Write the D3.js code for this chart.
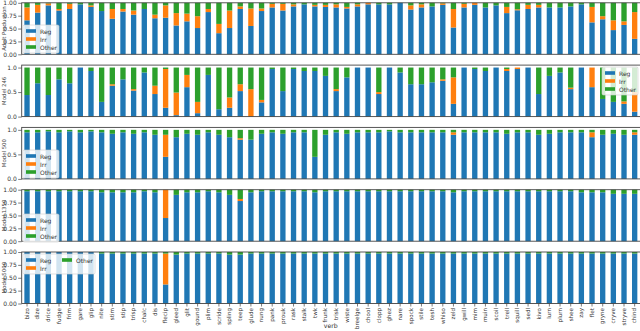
<!DOCTYPE html>
<html>
<head>
<meta charset="utf-8">
<script src="https://cdn.jsdelivr.net/npm/d3@7"></script>
<style>
  body { margin: 0; background: #fff; }
  svg { display: block; font-family: "DejaVu Sans", sans-serif; }
</style>
</head>
<body>
<svg id="chart" width="640" height="331"></svg>
<script>
// verbes et catégories
const verbs = ["bizo","dize","drice","fudge","frim","gare","glip","nite","stim","stip","trisp","chalc","dis","flecip","gleed","glit","gound","plim","scride","spling","teep","glude","nung","pank","prouk","rask","stalk","twk","frunk","trisk","wiste","breelge","chool","clopp","ghez","nare","spock","stile","tesh","whiso","zeld","gwill","mim","muin","scoil","trell","squill","sedl","kivo","lurn","plurn","shee","zay","flet","gryne","cryve","stryve","chind"];
const SERIES = ["Reg", "Irr", "Other"];
const COLORS = ["#1f77b4", "#ff7f0e", "#2ca02c"];

// Adult Production
const adultReg = [.66,.81,.95,.85,.88,.97,.92,.84,.69,.83,.77,.88,.70,.71,.56,.64,.51,.82,.41,.51,.88,.55,.84,.91,.85,.93,.97,.93,.92,.91,.89,.93,.97,.97,.97,1.0,.87,.91,.93,.96,.52,.91,.96,.91,.95,.80,.855,.88,.91,.91,.91,.93,.97,.62,.68,.47,.57,.30];
const adultIrr = [.25,.15,.04,.03,.10,0,.03,0,.19,.05,.08,0,.07,.24,.24,.15,.23,.06,.18,.34,.05,.34,.05,.07,.13,.04,0,.03,.04,.06,.03,.04,.03,0,0,0,.08,.06,0,.03,.36,.07,.04,0,0,.12,.02,.08,.05,0,0,0,0,.30,.06,.19,.07,.52];
const adultOther = [.09,.04,.01,.12,.02,.03,.05,.16,.12,.12,.15,.12,.23,.05,.20,.21,.26,.12,.41,.15,.07,.11,.11,.02,.02,.03,.03,.04,.04,.03,.08,.03,0,.03,.03,0,.05,.03,.07,.01,.12,.02,0,.09,.05,.08,.125,.04,.04,.09,.09,.07,.03,.08,.26,.34,.36,.18];

// Model 246
const m246Reg = [.44,.68,.44,.76,.68,1.0,.93,.30,.63,.76,.53,.90,.46,.18,.03,.60,.07,.85,.15,.18,.52,0,.29,.97,.52,.97,.93,.93,.83,.52,.80,1.0,1.0,.46,1.0,.90,.66,.66,.70,.73,.26,1.0,.97,.93,1.0,.93,.97,1.0,.46,.83,.90,.56,1.0,.60,.36,.30,.26,.10];
const m246Irr = [0,0,0,0,0,0,0,0,.03,0,.03,0,.17,.79,.46,.25,.23,0,0,.21,.14,.56,.05,0,0,0,0,0,0,.04,0,0,0,.04,0,0,0,0,0,.03,.54,0,0,0,0,.04,.03,0,0,0,0,.03,0,.40,0,0,.05,.40];
const m246Other = [.56,.32,.56,.24,.32,0,.07,.70,.34,.24,.44,.10,.37,.03,.51,.15,.70,.15,.85,.61,.34,.44,.66,.03,.48,.03,.07,.07,.17,.44,.20,0,0,.50,0,.10,.34,.34,.30,.24,.20,0,.03,.07,0,.03,0,0,.54,.17,.10,.41,0,0,.64,.70,.69,.50];

// Model 500
const m500Reg = [.95,.95,.97,.95,.97,.95,.97,.95,.92,.95,.92,.95,.90,.45,.85,.92,.90,.95,.90,.85,.80,.80,.92,.95,.92,.95,.95,.45,.90,.95,.92,.95,.95,.95,.97,.95,.95,.95,.95,.95,.90,.95,.95,.95,.95,.92,.95,.95,.90,.92,.95,.95,.95,.85,.90,.92,.90,.90];
const m500Irr = [0,0,0,0,0,0,0,0,0,0,0,0,0,.45,0,0,0,0,0,0,.03,0,0,0,0,0,0,0,0,0,0,0,0,0,0,0,0,0,0,0,.05,0,0,0,0,0,0,0,0,0,0,0,0,.10,0,0,0,.05];
const m500Other = [.05,.05,.03,.05,.03,.05,.03,.05,.08,.05,.08,.05,.10,.10,.15,.08,.10,.05,.10,.15,.17,.20,.08,.05,.08,.05,.05,.55,.10,.05,.08,.05,.05,.05,.03,.05,.05,.05,.05,.05,.05,.05,.05,.05,.05,.08,.05,.05,.10,.08,.05,.05,.05,.05,.10,.08,.10,.05];

// Model 1350
const m1350Reg = [.97,.97,.97,.97,.97,.97,.97,.95,.95,.95,.95,.97,.95,.45,.90,.95,.95,.97,.95,.90,.78,.95,.97,.97,.97,.97,.97,.95,.97,.97,.97,.97,.97,.97,.97,.97,.97,.97,.97,.97,.95,.97,.97,.97,.97,.97,.97,.97,.97,.97,.97,.97,.95,.95,.95,.92,.92,.92];
const m1350Irr = [0,0,0,0,0,0,0,0,0,0,0,0,0,.55,0,0,0,0,0,0,.04,0,0,0,0,0,0,0,0,0,0,0,0,0,0,0,0,0,0,0,0,0,0,0,0,0,0,0,0,0,0,0,0,0,0,0,0,0];
const m1350Other = [.03,.03,.03,.03,.03,.03,.03,.05,.05,.05,.05,.03,.05,0,.10,.05,.05,.03,.05,.10,.18,.05,.03,.03,.03,.03,.03,.05,.03,.03,.03,.03,.03,.03,.03,.03,.03,.03,.03,.03,.05,.03,.03,.03,.03,.03,.03,.03,.03,.03,.03,.03,.05,.05,.05,.08,.08,.08];

// Model 5000
const m5000Reg = [1,1,1,1,1,1,1,.97,.97,.97,.97,.97,.97,.37,.95,.97,.97,.97,.97,.95,.95,.97,.97,.97,.97,.97,.97,.97,.97,.97,.97,.97,.97,.97,.97,.97,.97,.97,.97,.97,.97,.97,.97,.97,.97,.97,.97,.97,.97,.97,.97,.97,.97,.97,.97,.97,.97,.97];
const m5000Irr = [0,0,0,0,0,0,0,0,0,0,0,0,0,.60,0,0,0,0,0,0,0,0,0,0,0,0,0,0,0,0,0,0,0,0,0,0,0,0,0,0,0,0,0,0,0,0,0,0,0,0,0,0,0,0,0,0,0,0];
const m5000Other = [0,0,0,0,0,0,0,.03,.03,.03,.03,.03,.03,.03,.05,.03,.03,.03,.03,.05,.05,.03,.03,.03,.03,.03,.03,.03,.03,.03,.03,.03,.03,.03,.03,.03,.03,.03,.03,.03,.03,.03,.03,.03,.03,.03,.03,.03,.03,.03,.03,.03,.03,.03,.03,.03,.03,.03];

const ticks2 = [0, 0.25, 0.5, 0.75, 1.0];
const ticks1 = [0, 0.5, 1.0];

const panels = [
  { label: "Adult Production", reg: adultReg, irr: adultIrr, other: adultOther, top: 2.8, ymax: 1.0, ticks: ticks2, fmt: ".2f", legend: { x: 23, y: 25, cols: 1 } },
  { label: "Model 246", reg: m246Reg, irr: m246Irr, other: m246Other, top: 65.1, ymax: 1.05, ticks: ticks1, fmt: ".1f", legend: { x: 602, y: 67, cols: 1 } },
  { label: "Model 500", reg: m500Reg, irr: m500Irr, other: m500Other, top: 127.4, ymax: 1.05, ticks: ticks1, fmt: ".1f", legend: { x: 23, y: 150, cols: 1 } },
  { label: "Model 1350", reg: m1350Reg, irr: m1350Irr, other: m1350Other, top: 189.7, ymax: 1.0, ticks: ticks2, fmt: ".2f", legend: { x: 23, y: 214, cols: 1 } },
  { label: "Model 5000", reg: m5000Reg, irr: m5000Irr, other: m5000Other, top: 252, ymax: 1.0, ticks: ticks2, fmt: ".2f", legend: { x: 23, y: 254, cols: 2 } }
];

const PANEL_H = 51.5;
const LEFT = 21.7, RIGHT = 640;
const svg = d3.select("#chart");

const x = d3.scaleBand()
  .domain(verbs)
  .range([LEFT, RIGHT])
  .paddingInner(0.5)
  .paddingOuter(0.25);

const stack = d3.stack().keys(SERIES);

/**
 * Dessine une légende façon matplotlib
 */
function drawLegend(g, lg) {
  const rowH = 8, colW = 36;
  const rows = lg.cols === 1 ? 3 : 2;
  const w = lg.cols === 1 ? 36 : 72;
  const h = rows * rowH + 4;
  g.append("rect")
    .attr("x", lg.x).attr("y", lg.y)
    .attr("width", w).attr("height", h)
    .attr("rx", 1.5)
    .attr("fill", "#fff").attr("fill-opacity", 0.8)
    .attr("stroke", "#ccc").attr("stroke-width", 0.6);
  SERIES.forEach((s, i) => {
    const col = lg.cols === 1 ? 0 : Math.floor(i / rows);
    const row = lg.cols === 1 ? i : i % rows;
    const cx = lg.x + 3 + col * colW;
    const cy = lg.y + 6 + row * rowH;
    g.append("rect")
      .attr("x", cx).attr("y", cy - 1.8)
      .attr("width", 10).attr("height", 3.6)
      .attr("fill", COLORS[i]);
    g.append("text")
      .attr("x", cx + 14).attr("y", cy)
      .attr("dominant-baseline", "central")
      .style("font-size", "6px")
      .style("fill", "#333")
      .text(s);
  });
}

panels.forEach((p, pi) => {
  const rows = verbs.map((v, i) => ({ verb: v, Reg: p.reg[i], Irr: p.irr[i], Other: p.other[i] }));
  const y = d3.scaleLinear().domain([0, p.ymax]).range([p.top + PANEL_H, p.top]);
  const g = svg.append("g");

  // barres empilées
  stack(rows).forEach((layer, si) => {
    g.append("g")
      .attr("fill", COLORS[si])
      .selectAll("rect")
      .data(layer)
      .join("rect")
      .attr("x", d => x(d.data.verb))
      .attr("width", x.bandwidth())
      .attr("y", d => y(d[1]))
      .attr("height", d => Math.max(0, y(d[0]) - y(d[1])));
  });

  // cadre
  g.append("rect")
    .attr("x", LEFT).attr("y", p.top)
    .attr("width", RIGHT - LEFT + 2).attr("height", PANEL_H)
    .attr("fill", "none")
    .attr("stroke", "#444").attr("stroke-width", 0.9);

  // axe Y
  const yAxis = g.append("g")
    .attr("transform", `translate(${LEFT},0)`)
    .call(d3.axisLeft(y).tickValues(p.ticks).tickFormat(d3.format(p.fmt)).tickSize(3.5).tickPadding(1.5));
  yAxis.select(".domain").remove();
  yAxis.selectAll("line").attr("stroke", "#444").attr("stroke-width", 0.7);
  yAxis.selectAll("text").style("font-size", "6px").style("fill", "#333").style("font-family", "DejaVu Sans");

  // titre de l'axe Y
  g.append("text")
    .attr("transform", `translate(4,${p.top + PANEL_H / 2}) rotate(-90)`)
    .attr("text-anchor", "middle")
    .attr("dominant-baseline", "central")
    .style("font-size", "5.4px")
    .style("fill", "#444")
    .text(p.label);

  // axe X (sous le dernier panneau seulement)
  const xAxis = g.append("g")
    .attr("transform", `translate(0,${p.top + PANEL_H})`)
    .call(d3.axisBottom(x).tickSize(pi === panels.length - 1 ? 3 : 0));
  xAxis.select(".domain").remove();
  xAxis.selectAll("line").attr("stroke", "#444").attr("stroke-width", 0.7);
  if (pi === panels.length - 1) {
    xAxis.selectAll("text")
      .attr("transform", "rotate(-90)")
      .attr("x", -4.5).attr("y", 0).attr("dy", "0.32em")
      .attr("text-anchor", "end")
      .style("font-size", "5.6px")
      .style("fill", "#333")
      .style("font-family", "DejaVu Sans");
  } else {
    xAxis.selectAll("text").remove();
  }

  drawLegend(g, p.legend);
});

svg.append("text")
  .attr("x", (LEFT + RIGHT) / 2)
  .attr("y", 328)
  .attr("text-anchor", "middle")
  .style("font-size", "6.2px")
  .style("fill", "#333")
  .text("verb");
</script>
</body>
</html>
